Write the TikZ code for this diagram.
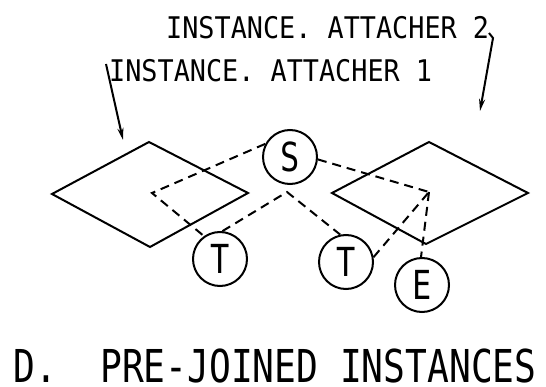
\documentclass[tikz,border=0pt]{standalone}
\usepackage{fontspec}
\newfontfamily\lblfont[FakeStretch=0.9]{DejaVu Sans Mono}
\newfontfamily\ttlfont[FakeStretch=0.8]{DejaVu Sans Mono}
\usetikzlibrary{arrows.meta}
\tikzset{
  edge/.style={line width=2pt, line join=miter},
  dashlink/.style={line width=2pt, dash pattern=on 9pt off 6pt, line join=miter},
  leader/.style={line width=2pt, -{Stealth[length=12pt,width=6pt]}},
  circ/.style={circle, draw, line width=2pt, minimum size=54pt, inner sep=0pt,
    font=\ttlfont\fontsize{40}{40}\selectfont},
  lbl/.style={anchor=base west, inner sep=0pt, font=\lblfont\fontsize{29.8}{30}\selectfont},
  ttl/.style={anchor=base west, inner sep=0pt, font=\ttlfont\fontsize{45.3}{46}\selectfont},
}
\begin{document}
\begin{tikzpicture}[x=1pt,y=-1pt]
\useasboundingbox (0,0) rectangle (546,387);
% diamonds
\draw[edge] (52,194) -- (149,142) -- (248,193) -- (150,247) -- cycle;
\draw[edge] (332,193) -- (429,142) -- (528,193) -- (426,244) -- cycle;
% inner corners
\coordinate (Lc) at (152,193);
\coordinate (Ap) at (287,192);
\coordinate (Rc) at (429,192);
% circles
\node[circ] (S) at (290,157) {S};
\node[circ] (T1) at (220,259) {T};
\node[circ] (T2) at (346,262) {T};
\node[circ] (E) at (422,285) {E};
% dashed links
\draw[dashlink] (S.152) -- (Lc) -- (T1.125);
\draw[dashlink] (T1.85) -- (Ap) -- (T2.102);
\draw[dashlink] (S.-5) -- (Rc);
\draw[dashlink] (T2.10) -- (Rc);
\draw[dashlink] (Rc) -- (E.92);
% labels
\node[lbl] (lbl2) at (166,38.3) {INSTANCE.\ ATTACHER 2};
\node[lbl] (lbl1) at (109,81.6) {INSTANCE.\ ATTACHER 1};
\coordinate (l1s) at (106,64);
\coordinate (l1e) at (123,140);
\coordinate (l2h) at (489,33);
\coordinate (l2s) at (493,38);
\coordinate (l2e) at (480,111);
\draw[leader] (l1s) -- (l1e);
\draw[leader] (l2h) -- (l2s) -- (l2e);
% title
\node[ttl] (ttlD) at (13,382) {D.};
\node[ttl] (ttl) at (100,382) {PRE-JOINED INSTANCES};
\end{tikzpicture}
\end{document}
